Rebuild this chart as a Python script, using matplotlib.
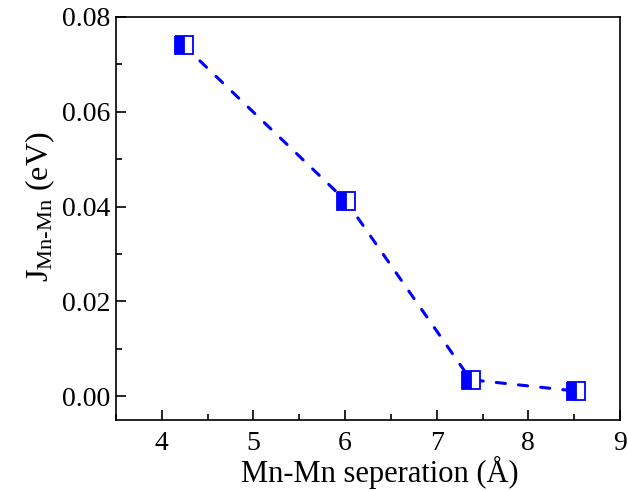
import matplotlib
matplotlib.use("Agg")
import matplotlib.pyplot as plt
from matplotlib.ticker import MultipleLocator

# Mn-Mn distance (Angstrom) and exchange coupling J (eV)
separation = [4.24, 6.01, 7.37, 8.52]
j_mn_mn = [0.0740, 0.0412, 0.0035, 0.0011]

plt.rcParams["font.family"] = "Liberation Serif"
plt.rcParams["mathtext.fontset"] = "custom"
plt.rcParams["mathtext.rm"] = "Liberation Serif"
plt.rcParams["mathtext.it"] = "Liberation Serif:italic"

fig = plt.figure(figsize=(6.28, 4.91), dpi=100)
ax = fig.add_axes([116 / 628, 71 / 491, (620 - 116) / 628, (420 - 17) / 491])

ax.plot(separation, j_mn_mn, color="blue", linestyle="--", linewidth=2.2,
        dashes=(3.0, 4.3), dash_capstyle="round",
        marker="s", markersize=13.5, fillstyle="left",
        markerfacecolor="blue", markerfacecoloralt="white",
        markeredgecolor="blue", markeredgewidth=1.3)

ax.set_xlim(3.5, 9)
ax.set_ylim(-0.005, 0.08)
ax.xaxis.set_major_locator(MultipleLocator(1))
ax.xaxis.set_minor_locator(MultipleLocator(0.5))
ax.yaxis.set_major_locator(MultipleLocator(0.02))
ax.yaxis.set_minor_locator(MultipleLocator(0.01))
ax.yaxis.set_major_formatter(plt.FormatStrFormatter("%.2f"))

ax.tick_params(which="both", direction="in", width=1.2, labelsize=20)
ax.tick_params(axis="x", pad=8)
ax.tick_params(axis="y", pad=4)
ax.tick_params(which="major", length=7)
ax.tick_params(which="minor", length=4)
for sp in ax.spines.values():
    sp.set_linewidth(1.2)

ax.set_xlabel("Mn-Mn seperation (Å)", fontsize=22, labelpad=0)
ax.set_ylabel(r"J$_{\mathrm{Mn\text{-}Mn}}$ (eV)", fontsize=23, labelpad=4)
ax.xaxis.label.set_x(0.524)
ax.yaxis.label.set_y(0.53)

fig.savefig("out.png", dpi=100)
